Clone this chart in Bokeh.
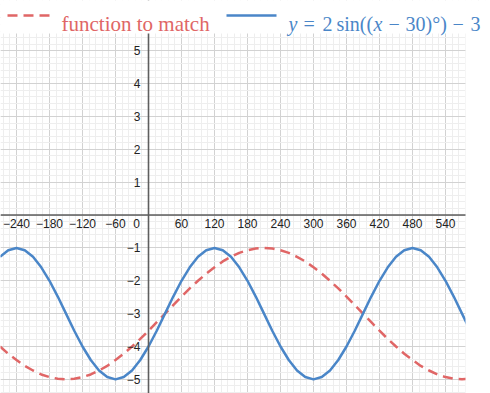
from bokeh.plotting import figure
from bokeh.models import Range1d, FixedTicker, Span, BoxAnnotation, Label, Arrow
from bokeh.core.properties import value
from bokeh.embed import file_html
from bokeh.resources import INLINE

# ---- data ----
xs = [-270, -255, -240, -225, -210, -195, -180, -165, -150, -135, -120, -105, -90, -75,
      -60, -45, -30, -15, 0, 15, 30, 45, 60, 75, 90, 105, 120, 135, 150, 165, 180, 195,
      210, 225, 240, 255, 270, 285, 300, 315, 330, 345, 360, 375, 390, 405, 420, 435,
      450, 465, 480, 495, 510, 525, 540, 555, 570, 585]
blue_y = [-1.27, -1.07, -1.00, -1.07, -1.27, -1.59, -2.00, -2.48, -3.00, -3.52, -4.00, -4.41,
          -4.73, -4.93, -5.00, -4.93, -4.73, -4.41, -4.00, -3.52, -3.00, -2.48, -2.00, -1.59,
          -1.27, -1.07, -1.00, -1.07, -1.27, -1.59, -2.00, -2.48, -3.00, -3.52, -4.00, -4.41,
          -4.73, -4.93, -5.00, -4.93, -4.73, -4.41, -4.00, -3.52, -3.00, -2.48, -2.00, -1.59,
          -1.27, -1.07, -1.00, -1.07, -1.27, -1.59, -2.00, -2.48, -3.00, -3.52]
red_y = [-4.00, -4.22, -4.41, -4.59, -4.73, -4.85, -4.93, -4.98, -5.00, -4.98, -4.93, -4.85,
         -4.73, -4.59, -4.41, -4.22, -4.00, -3.77, -3.52, -3.26, -3.00, -2.74, -2.48, -2.23,
         -2.00, -1.78, -1.59, -1.41, -1.27, -1.15, -1.07, -1.02, -1.00, -1.02, -1.07, -1.15,
         -1.27, -1.41, -1.59, -1.78, -2.00, -2.23, -2.48, -2.74, -3.00, -3.26, -3.52, -3.77,
         -4.00, -4.22, -4.41, -4.59, -4.73, -4.85, -4.93, -4.98, -5.00, -4.98]

x_tick_vals = [-240, -180, -120, -60, 60, 120, 180, 240, 300, 360, 420, 480, 540]
x_tick_text = ["\u2212240", "\u2212180", "\u2212120", "\u221260", "60", "120", "180", "240",
               "300", "360", "420", "480", "540"]
y_tick_vals = [5, 4, 3, 2, 1, -1, -2, -3, -4, -5]
y_tick_text = ["5", "4", "3", "2", "1", "\u22121", "\u22122", "\u22123", "\u22124", "\u22125"]

legend_red = "function to match"
formula_parts = ["y", "=", "2", "sin((", "x", "\u2212", "30)\u00b0)", "\u2212", "3"]
formula_italic = [True, False, False, False, True, False, False, False, False]
formula_left = [288, 303, 322, 336, 373, 388, 405, 452, 470]   # screen px from left

RED = "#e06666"
BLUE = "#4a86c8"

X_MIN, X_MAX_GRAPH, X_MAX_CANVAS = -269.1, 576.4, 621.8
Y_MIN, Y_TOP_GRAPH, Y_MAX_CANVAS = -5.43, 5.525, 6.53

p = figure(width=490, height=393, x_range=Range1d(X_MIN, X_MAX_CANVAS),
           y_range=Range1d(Y_MIN, Y_MAX_CANVAS),
           output_backend="svg", toolbar_location=None, min_border=0)
p.axis.visible = False
p.outline_line_color = None

x_major = list(range(-300, 661, 60))
x_minor = list(range(-300, 661, 12))
y_major = list(range(-6, 8))
y_minor = [round(-6 + 0.2 * i, 1) for i in range(71)]
p.xgrid.ticker = FixedTicker(ticks=x_major, minor_ticks=x_minor)
p.ygrid.ticker = FixedTicker(ticks=y_major, minor_ticks=y_minor)
for g in (p.xgrid, p.ygrid):
    g.grid_line_color = "#d2d2d2"
    g.grid_line_width = 1
    g.minor_grid_line_color = "#eeeeee"
    g.minor_grid_line_width = 1

p.add_layout(Span(location=0, dimension="height", line_color="#5e5e5e", line_width=1.6))
p.add_layout(Span(location=0, dimension="width", line_color="#5e5e5e", line_width=1.6))

p.line(xs, red_y, line_color=RED, line_width=2.5, line_dash="10 6")
p.line(xs, blue_y, line_color=BLUE, line_width=2.5)

lab_font = value("Liberation Sans")
p.text(x_tick_vals, [0] * len(x_tick_vals), text=x_tick_text, text_font=lab_font,
       text_font_size="12px", text_color="#222222", text_align="center",
       text_baseline="top", y_offset=4)
p.text([0], [0], text=["0"], text_font=lab_font, text_font_size="12px",
       text_color="#222222", text_align="center", text_baseline="top",
       x_offset=-12, y_offset=4)
p.text([0] * len(y_tick_vals), y_tick_vals, text=y_tick_text, text_font=lab_font,
       text_font_size="12px", text_color="#222222", text_align="right",
       text_baseline="middle", x_offset=-8)

# white margins: legend strip on top, empty band on the right
p.add_layout(BoxAnnotation(left=X_MAX_GRAPH, fill_color="white", fill_alpha=1.0,
                           line_color=None))
p.add_layout(BoxAnnotation(bottom=Y_TOP_GRAPH, fill_color="white", fill_alpha=1.0,
                           line_color=None))

H = 393
LINE_Y = H - 15
BASE_Y = H - 23
p.add_layout(Arrow(x_start=7, y_start=LINE_Y, x_end=53, y_end=LINE_Y,
                   start_units="screen", end_units="screen", end=None, start=None,
                   line_color=RED, line_width=2.5, line_dash="10 6"))
p.add_layout(Label(x=61, y=BASE_Y, x_units="screen", y_units="screen", text=legend_red,
                   text_font="Liberation Serif", text_font_size="21px", text_color=RED,
                   text_baseline="alphabetic"))
p.add_layout(Arrow(x_start=226, y_start=LINE_Y, x_end=276, y_end=LINE_Y,
                   start_units="screen", end_units="screen", end=None, start=None,
                   line_color=BLUE, line_width=2.5))
for t, it, xl in zip(formula_parts, formula_italic, formula_left):
    p.add_layout(Label(x=xl, y=BASE_Y, x_units="screen", y_units="screen", text=t,
                       text_font="Liberation Serif",
                       text_font_style="italic" if it else "normal",
                       text_font_size="20px", text_color=BLUE, text_baseline="alphabetic"))

open("out.html", "w").write(file_html(p, INLINE))
